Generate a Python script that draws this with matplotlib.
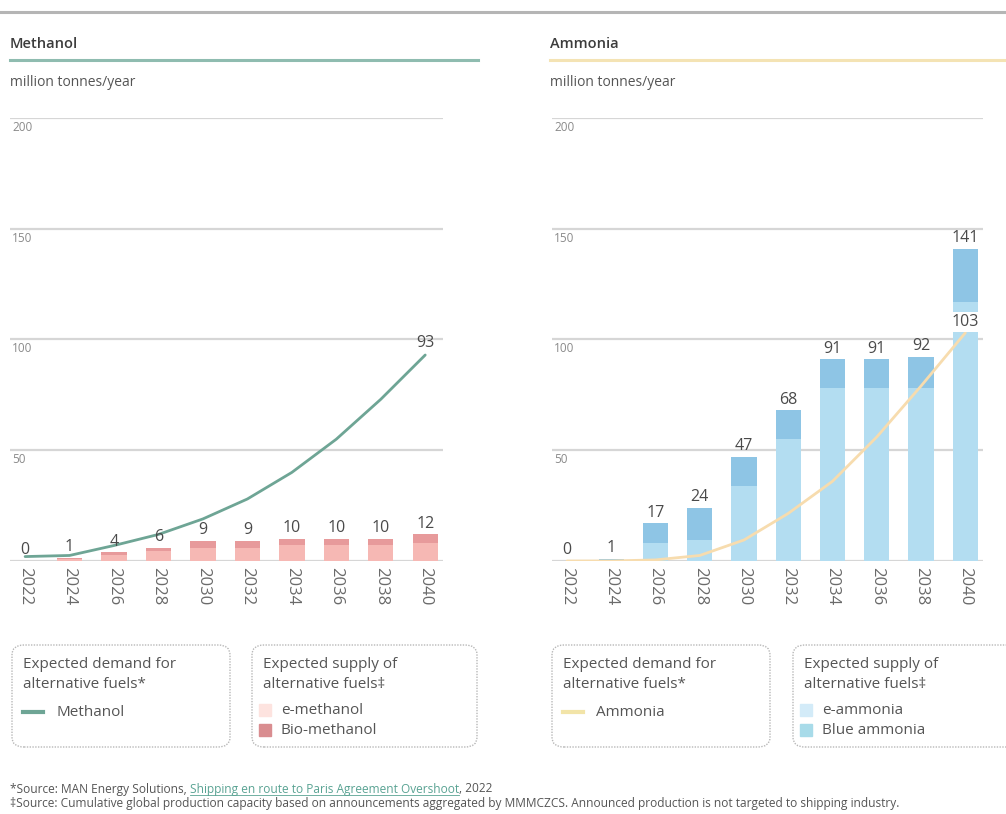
import matplotlib
matplotlib.use('Agg')
import matplotlib.pyplot as plt
from matplotlib.patches import FancyBboxPatch, Rectangle
from matplotlib.lines import Line2D
import matplotlib.transforms as mtransforms
import numpy as np

plt.rcParams['font.family'] = ['Open Sans', 'DejaVu Sans']

years = ['2022', '2024', '2026', '2028', '2030', '2032', '2034', '2036', '2038', '2040']

# methanol, million tonnes/year
methanol_demand = [2, 2.5, 7, 12, 19, 28, 40, 55, 73, 93]
e_methanol = [0, 0.7, 2.7, 4.3, 6, 6, 7, 7, 7, 8]
bio_methanol = [0, 0.6, 1.2, 1.7, 3, 3, 3, 3, 3, 4]

# ammonia, million tonnes/year
ammonia_demand = [0, 0, 0.5, 2.5, 9.5, 21.5, 36, 56, 79, 103]
e_ammonia = [0, 0.5, 8, 9.5, 34, 55, 78, 78, 78, 117]
blue_ammonia = [0, 0.5, 9, 14.5, 13, 13, 13, 13, 14, 24]

gridvals = [50, 100, 150, 200]

W, H = 1006, 814
fig = plt.figure(figsize=(W / 100, H / 100), dpi=100)


def fx(x):
    return x / W


def fy(y):
    return 1 - y / H


TXT = '#4a4a4a'
GRID = '#d6d6d6'


def header(x0, x1, title, color):
    fig.text(fx(x0), fy(44), title, fontsize=10.5, fontweight='semibold',
             color='#3c3c3c', va='center', ha='left')
    fig.add_artist(Line2D([fx(x0), fx(x1)], [fy(60), fy(60)], color=color, lw=2.2))
    fig.text(fx(x0), fy(83), 'million tonnes/year', fontsize=10, color='#555555',
             va='center', ha='left')


def panel(left_px, right_px, lower, upper, demand, c_low, c_up, c_line):
    ax = fig.add_axes([fx(left_px), fy(561), fx(right_px - left_px), (561 - 118) / H])
    x = np.arange(len(years))
    ax.set_xlim(-0.34, 9.4)
    ax.set_ylim(0, 200)
    for v in [0] + gridvals:
        ax.axhline(v, color=GRID, lw=1.6, zorder=1)
    off = mtransforms.offset_copy(ax.transData, fig=fig, x=0, y=-3, units='dots')
    for v in gridvals:
        tr = mtransforms.blended_transform_factory(ax.transAxes, off)
        ax.text(0.005, v, str(v), transform=tr, fontsize=8.5, color='#8a8a8a',
                va='top', ha='left')
    ax.bar(x, lower, width=0.57, color=c_low, zorder=2)
    ax.bar(x, upper, bottom=lower, width=0.57, color=c_up, zorder=2)
    ax.plot(x, demand, color=c_line, lw=2, zorder=3, solid_capstyle='round')
    totals = np.array(lower) + np.array(upper)
    for xi, t in zip(x, totals):
        ax.annotate(str(int(round(t))), (xi, t), xytext=(0, 2), textcoords='offset points',
                    ha='center', va='bottom', fontsize=11.5, color=TXT, zorder=4)
    ax.set_xticks(x)
    ax.set_xticklabels(years, rotation=270, fontsize=12, color='#6a6a6a')
    ax.tick_params(axis='x', length=0, pad=4)
    ax.set_yticks([])
    for s in ax.spines.values():
        s.set_visible(False)
    ax.patch.set_alpha(0)
    return ax


def legend_box(x0, x1, title1, title2):
    box = FancyBboxPatch((fx(x0), fy(747)), fx(x1 - x0), (747 - 645) / H,
                         boxstyle='round,pad=0,rounding_size=0.012',
                         transform=fig.transFigure, fill=False,
                         edgecolor='#b8b8b8', lw=1.0, linestyle=(0, (1, 1)))
    fig.add_artist(box)
    fig.text(fx(x0 + 11), fy(665), title1, fontsize=11, color='#555555', va='center')
    fig.text(fx(x0 + 11), fy(685), title2, fontsize=11, color='#555555', va='center')


def line_entry(x0, label, color):
    fig.add_artist(Line2D([fx(x0 + 11), fx(x0 + 31)], [fy(712), fy(712)], color=color, lw=3))
    fig.text(fx(x0 + 44), fy(712), label, fontsize=11, color='#555555', va='center')


def patch_entry(x0, y, label, color):
    fig.add_artist(Rectangle((fx(x0 + 7), fy(y + 6)), fx(12), 12 / H, color=color,
                             transform=fig.transFigure))
    fig.text(fx(x0 + 29), fy(y), label, fontsize=11, color='#555555', va='center')


# top rule
fig.add_artist(Line2D([0, 1], [fy(12), fy(12)], color='#b5b5b5', lw=2.2))

header(10, 478, 'Methanol', '#8fbcb0')
header(550, 1006, 'Ammonia', '#f4e3b4')

ax1 = panel(10, 443, e_methanol, bio_methanol, methanol_demand,
            '#f6b8b4', '#e79a9b', '#6ea595')
ax1.annotate(str(methanol_demand[-1]), (9, methanol_demand[-1]), xytext=(0, 3),
             textcoords='offset points', ha='center', va='bottom', fontsize=11.5, color=TXT)

ax2 = panel(552, 983, e_ammonia, blue_ammonia, ammonia_demand,
            '#b3ddf1', '#8ec5e5', '#f7dcae')
ax2.annotate(str(ammonia_demand[-1]), (9, ammonia_demand[-1]), xytext=(0, 2),
             textcoords='offset points', ha='center', va='bottom', fontsize=11.5, color=TXT,
             bbox=dict(boxstyle='square,pad=0.15', fc='white', ec='none'), zorder=5)

# legends
legend_box(12, 230, 'Expected demand for', 'alternative fuels*')
line_entry(12, 'Methanol', '#6ea595')
legend_box(252, 477, 'Expected supply of', 'alternative fuels\u2021')
patch_entry(252, 710, 'e-methanol', '#fde3df')
patch_entry(252, 730, 'Bio-methanol', '#d98d90')

legend_box(552, 770, 'Expected demand for', 'alternative fuels*')
line_entry(552, 'Ammonia', '#f2e4a8')
legend_box(793, 1020, 'Expected supply of', 'alternative fuels\u2021')
patch_entry(793, 710, 'e-ammonia', '#d3ebf8')
patch_entry(793, 730, 'Blue ammonia', '#a8dbe9')

# footnotes
fig.canvas.draw()
r = fig.canvas.get_renderer()
FN = 8.6
parts = [('*Source: MAN Energy Solutions, ', '#555555', False),
         ('Shipping en route to Paris Agreement Overshoot', '#5aa393', True),
         (', 2022', '#555555', False)]
xp = fx(10)
for s, c, ul in parts:
    t = fig.text(xp, fy(789), s, fontsize=FN, color=c, va='center', ha='left')
    bb = t.get_window_extent(renderer=r)
    if ul:
        fig.add_artist(Line2D([xp, xp + bb.width / W], [fy(795), fy(795)], color=c, lw=0.6))
    xp += bb.width / W
fig.text(fx(10), fy(804), '\u2021Source: Cumulative global production capacity based on announcements '
         'aggregated by MMMCZCS. Announced production is not targeted to shipping industry.',
         fontsize=FN, color='#555555', va='center', ha='left')

fig.savefig('out.png', dpi=100)
